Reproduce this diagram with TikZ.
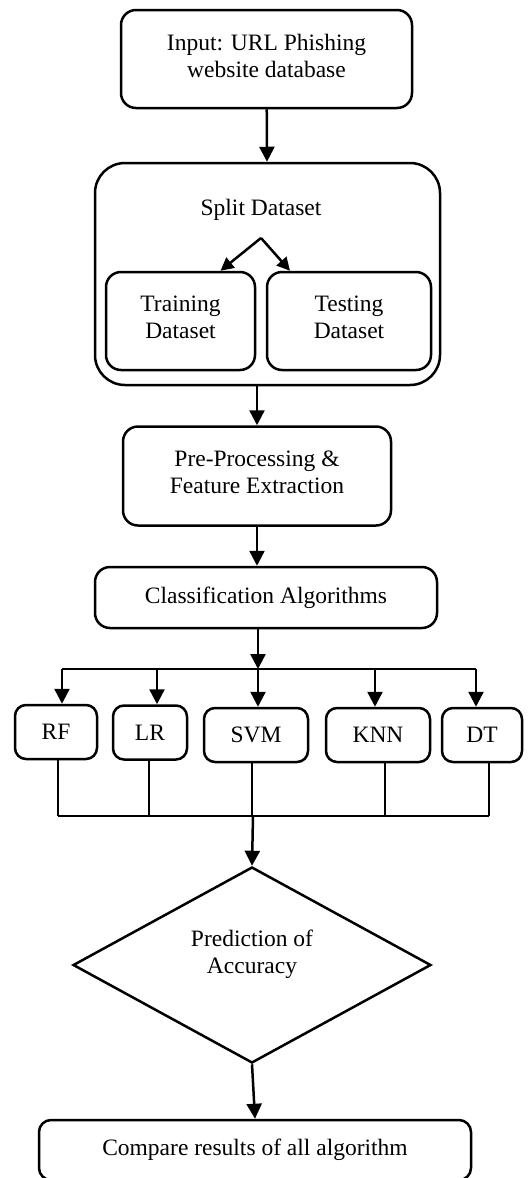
\documentclass[tikz,border=0pt]{standalone}
\usepackage{fontspec}
\setmainfont{Liberation Serif}
\usepackage{tikz}
\usetikzlibrary{shapes.geometric,arrows.meta}

\begin{document}
\begin{tikzpicture}[x=1pt,y=-1pt,font=\fontsize{23.5}{27}\selectfont,
    box/.style={draw,rounded corners=15pt,line width=2.5pt,align=center,inner sep=0pt},
    twolines/.style={text depth=7pt},
    alg/.style={box,rounded corners=11pt,minimum height=54pt},
    arr/.style={-{Triangle[length=15pt,width=15pt]},line width=2.5pt},
    thin/.style={line width=1.2pt}]
    \useasboundingbox (0,0) rectangle (531,1178);
    \node[box,twolines,minimum width=291pt,minimum height=98pt] (1) at (266.5,59) {Input: URL Phishing\\website database};
    \node[box,rounded corners=30pt,minimum width=345pt,minimum height=222pt] (2) at (267.5,274) {};
    \node (2a) at (261,210) {Split Dataset};
    \node[box,twolines,minimum width=149pt,minimum height=98pt] (3) at (180.5,321) {Training\\Dataset};
    \node[box,twolines,minimum width=164pt,minimum height=98pt] (4) at (349,321) {Testing\\Dataset};
    \node[box,twolines,minimum width=268pt,minimum height=99pt] (5) at (257,476) {Pre-Processing \&\\Feature Extraction};
    \node[box,minimum width=342pt,minimum height=61pt] (6) at (266,597.5) {Classification Algorithms};
    \node[alg,minimum width=82pt] (7) at (56,732) {RF};
    \node[alg,minimum width=74pt] (8) at (150,732.5) {LR};
    \node[alg,minimum width=104pt] (9) at (256,735) {SVM};
    \node[alg,minimum width=104pt] (10) at (378,735) {KNN};
    \node[alg,minimum width=80pt] (11) at (482,735) {DT};
    \node[draw,diamond,line width=2.5pt,minimum width=358pt,minimum height=196pt,inner sep=0pt,align=center,text depth=26pt] (12) at (252,965) {Prediction of\\Accuracy};
    \node[box,rounded corners=12pt,minimum width=432pt,minimum height=60pt] (13) at (255,1150) {Compare results of all algorithm};
    \coordinate (f) at (261,238);
    \coordinate (b) at (258,669);
    \coordinate (j) at (253,816);
    \draw[arr] (1) -- (2);
    \draw[arr,-{Triangle[length=13pt,width=13pt]}] (f) -- ([xshift=40pt]3.north);
    \draw[arr,-{Triangle[length=13pt,width=13pt]}] (f) -- ([xshift=-59pt]4.north);
    \draw[arr] (5.north |- 2.south) -- (5.north);
    \draw[arr] (5.south) -- (5.south |- 6.north);
    \draw[arr] (6.south -| b) -- (b);
    \draw[thin] ([xshift=6pt]7.north |- b) -- ([xshift=-6pt]11.north |- b);
    \foreach \n/\s in {7/6,8/7,9/2,10/-3,11/-6}
        \draw[arr] ([xshift=\s pt]\n.north |- b) -- ([xshift=\s pt]\n.north);
    \foreach \n/\s in {7/2,8/-1,9/-4,10/7,11/7}
        \draw[thin] ([xshift=\s pt]\n.south) -- ([xshift=\s pt]\n.south |- j);
    \draw[thin] ([xshift=2pt]7.south |- j) -- ([xshift=7pt]11.south |- j);
    \draw[arr] (j) -- (12.north);
    \draw[arr] (12.south) -- (13.north);
\end{tikzpicture}
\end{document}
